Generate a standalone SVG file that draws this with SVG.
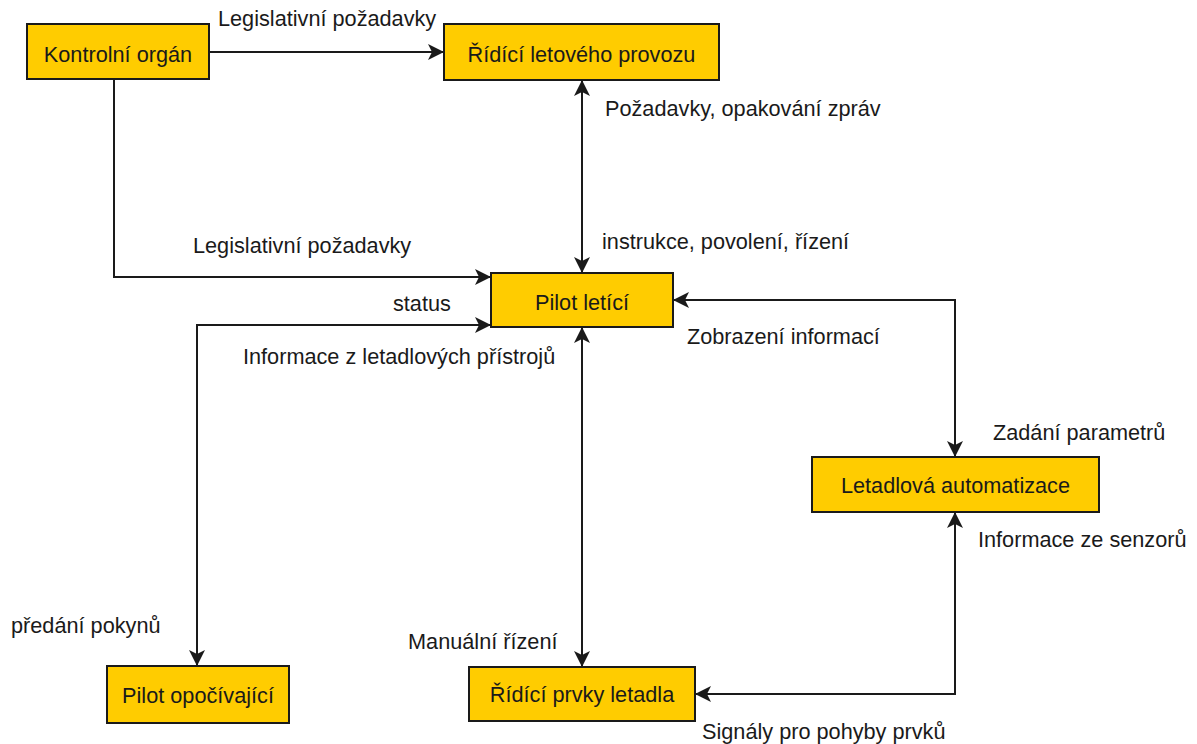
<svg xmlns="http://www.w3.org/2000/svg" width="1197" height="744" viewBox="0 0 1197 744">
<style>
.box{fill:#FFCC00;stroke:#1a1a1a;stroke-width:2}
.t{font-family:"Liberation Sans",Arial,sans-serif;font-size:21.7px;fill:#1a1a1a}
.c{text-anchor:middle}
.ln{fill:none;stroke:#1a1a1a;stroke-width:2}
.one{marker-end:url(#arr)}
.two{marker-start:url(#arr);marker-end:url(#arr)}
</style>
<defs>
<marker id="arr" viewBox="-17 -9 19 18" refX="0" refY="0" markerWidth="19" markerHeight="18" markerUnits="userSpaceOnUse" orient="auto-start-reverse">
<path d="M1,0 L-15,-8 L-11,0 L-15,8 Z" fill="#1a1a1a"/>
</marker>
</defs>
<rect width="1197" height="744" fill="#ffffff"/>
<g id="connectors">
<path class="ln one" d="M209,52 H443"/>
<path class="ln two" d="M582,81 V272"/>
<path class="ln one" d="M114,79 V277 H490"/>
<path class="ln two" d="M490,325 H197 V665"/>
<path class="ln two" d="M582,328 V666"/>
<path class="ln two" d="M674,300 H955 V456"/>
<path class="ln two" d="M696,694 H955 V513"/>
</g>
<g id="labels">
<text class="t" x="218" y="26">Legislativní požadavky</text>
<text class="t" x="605" y="116">Požadavky, opakování zpráv</text>
<text class="t" x="602" y="249">instrukce, povolení, řízení</text>
<text class="t" x="193" y="253">Legislativní požadavky</text>
<text class="t" x="393" y="311">status</text>
<text class="t" x="243" y="364">Informace z letadlových přístrojů</text>
<text class="t" x="687" y="344">Zobrazení informací</text>
<text class="t" x="993" y="440">Zadání parametrů</text>
<text class="t" x="978" y="547">Informace ze senzorů</text>
<text class="t" x="11" y="633">předání pokynů</text>
<text class="t" x="408" y="649">Manuální řízení</text>
<text class="t" x="702" y="739">Signály pro pohyby prvků</text>
</g>
<g id="kontrolni-organ">
<rect class="box" x="27" y="24" width="182" height="55"/>
<text class="t c" x="118" y="61.5">Kontrolní orgán</text>
</g>
<g id="ridici-letoveho-provozu">
<rect class="box" x="444" y="24" width="275" height="56"/>
<text class="t c" x="581.5" y="61.5">Řídící letového provozu</text>
</g>
<g id="pilot-letici">
<rect class="box" x="491" y="273" width="182" height="54"/>
<text class="t c" x="582" y="310">Pilot letící</text>
</g>
<g id="letadlova-automatizace">
<rect class="box" x="812" y="457" width="287" height="55"/>
<text class="t c" x="955.5" y="493">Letadlová automatizace</text>
</g>
<g id="pilot-opocivajici">
<rect class="box" x="107" y="666" width="182" height="57"/>
<text class="t c" x="198" y="703">Pilot opočívající</text>
</g>
<g id="ridici-prvky-letadla">
<rect class="box" x="469" y="667" width="226" height="54"/>
<text class="t c" x="582" y="702">Řídící prvky letadla</text>
</g>
</svg>
